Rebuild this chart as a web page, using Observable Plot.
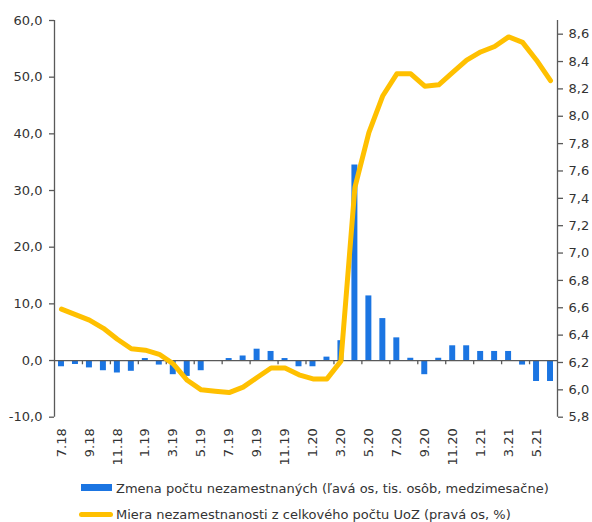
<!DOCTYPE html>
<html>
<head>
<meta charset="utf-8">
<script src="https://cdn.jsdelivr.net/npm/d3@7"></script>
<script src="https://cdn.jsdelivr.net/npm/@observablehq/plot@0.6"></script>
<style>
  body { margin: 0; background: #fff; }
  #wrap { position: relative; width: 592px; height: 522px; font-family: "DejaVu Sans", sans-serif; color: #333; }
  #chart svg { display: block; }
  .lg { position: absolute; left: 116px; font-size: 13px; line-height: 15px; white-space: nowrap; color: #333; }
  .sw1 { position: absolute; left: 81px; top: 484px; width: 31px; height: 7px; background: #1B75E2; }
  .sw2 { position: absolute; left: 79px; top: 511.5px; width: 34px; height: 5px; background: #FFC000; border-radius: 3px; }
</style>
</head>
<body>
<div id="wrap">
  <div id="chart"></div>
  <div class="sw1"></div>
  <div class="lg" style="top:480.5px">Zmena počtu nezamestnaných (ľavá os, tis. osôb, medzimesačne)</div>
  <div class="sw2"></div>
  <div class="lg" style="top:506.5px">Miera nezamestnanosti z celkového počtu UoZ (pravá os, %)</div>
</div>
<script>
const months = ["7.18","8.18","9.18","10.18","11.18","12.18","1.19","2.19","3.19","4.19","5.19","6.19",
                "7.19","8.19","9.19","10.19","11.19","12.19","1.20","2.20","3.20","4.20","5.20","6.20",
                "7.20","8.20","9.20","10.20","11.20","12.20","1.21","2.21","3.21","4.21","5.21","6.21"];
const changes = [-1.1,-0.7,-1.3,-1.8,-2.2,-1.9,0.35,-0.8,-2.5,-2.8,-1.8,0,
                 0.35,0.8,2.0,1.6,0.35,-1.1,-1.1,0.6,3.5,34.5,11.4,7.4,
                 4.0,0.4,-2.5,0.4,2.6,2.6,1.6,1.6,1.6,-0.8,-3.7,-3.7];
const rates = [6.59,6.55,6.51,6.45,6.37,6.30,6.29,6.26,6.19,6.07,6.00,5.99,
               5.98,6.02,6.09,6.16,6.16,6.11,6.08,6.08,6.21,7.48,7.88,8.15,
               8.31,8.31,8.22,8.23,8.32,8.41,8.47,8.51,8.58,8.54,8.41,8.26];
const leftTicks = [-10,0,10,20,30,40,50,60];
const rightTicks = [5.8,6.0,6.2,6.4,6.6,6.8,7.0,7.2,7.4,7.6,7.8,8.0,8.2,8.4,8.6];
const labelEvery = 2;

const leftDomain = [-10, 60];
const rightDomain = [5.8, 8.7];
const toLeft = r => leftDomain[0] + (r - rightDomain[0]) * (leftDomain[1] - leftDomain[0]) / (rightDomain[1] - rightDomain[0]);
const fromLeft = v => rightDomain[0] + (v - leftDomain[0]) * (rightDomain[1] - rightDomain[0]) / (leftDomain[1] - leftDomain[0]);
const fmt = v => v.toFixed(1).replace(".", ",");

const data = months.map((m, i) => ({i, month: m, change: changes[i], rate: rates[i]}));
const labelIdx = data.filter(d => d.i % labelEvery === 0).map(d => d.i + 0.5);
const tickIdx = data.filter(d => d.i % labelEvery === 0 && d.i > 0).map(d => d.i);

const axisColor = "#595959";

const chart = Plot.plot({
  width: 592,
  height: 470,
  marginLeft: 54,
  marginRight: 35,
  marginTop: 20,
  marginBottom: 53.3,
  style: {fontFamily: "DejaVu Sans, sans-serif", fontSize: "13px", color: "#333", background: "#fff"},
  x: {type: "linear", domain: [0, months.length], axis: null},
  y: {domain: leftDomain, axis: null},
  marks: [
    Plot.rectY(data, {x1: d => d.i, x2: d => d.i + 1, y: "change", fill: "#1B75E2", insetLeft: 4, insetRight: 4}),
    Plot.ruleY([0], {stroke: axisColor, strokeWidth: 1.3}),
    Plot.ruleX(tickIdx, {x: d => d, y1: 0, y2: -0.75, stroke: axisColor, strokeWidth: 1.3}),
    Plot.ruleX([0, months.length], {stroke: axisColor, strokeWidth: 1.3}),
    Plot.axisY(leftTicks, {anchor: "left", label: null, tickSize: 5, tickPadding: 7, tickFormat: fmt, stroke: axisColor, strokeWidth: 1.3, fill: "#333"}),
    Plot.axisY(rightTicks.map(toLeft), {anchor: "right", label: null, tickSize: 5, tickPadding: 6, tickFormat: d => fmt(fromLeft(d)), stroke: axisColor, strokeWidth: 1.3, fill: "#333"}),
    Plot.axisX(labelIdx, {anchor: "bottom", label: null, tickSize: 0, tickPadding: 11, tickRotate: -90, tickFormat: d => months[d - 0.5], fill: "#333"}),
    Plot.line(data, {x: d => d.i + 0.5, y: d => toLeft(d.rate), stroke: "#FFC000", strokeWidth: 5, strokeLinejoin: "round", strokeLinecap: "round"})
  ]
});
document.getElementById("chart").appendChild(chart);
</script>
</body>
</html>
